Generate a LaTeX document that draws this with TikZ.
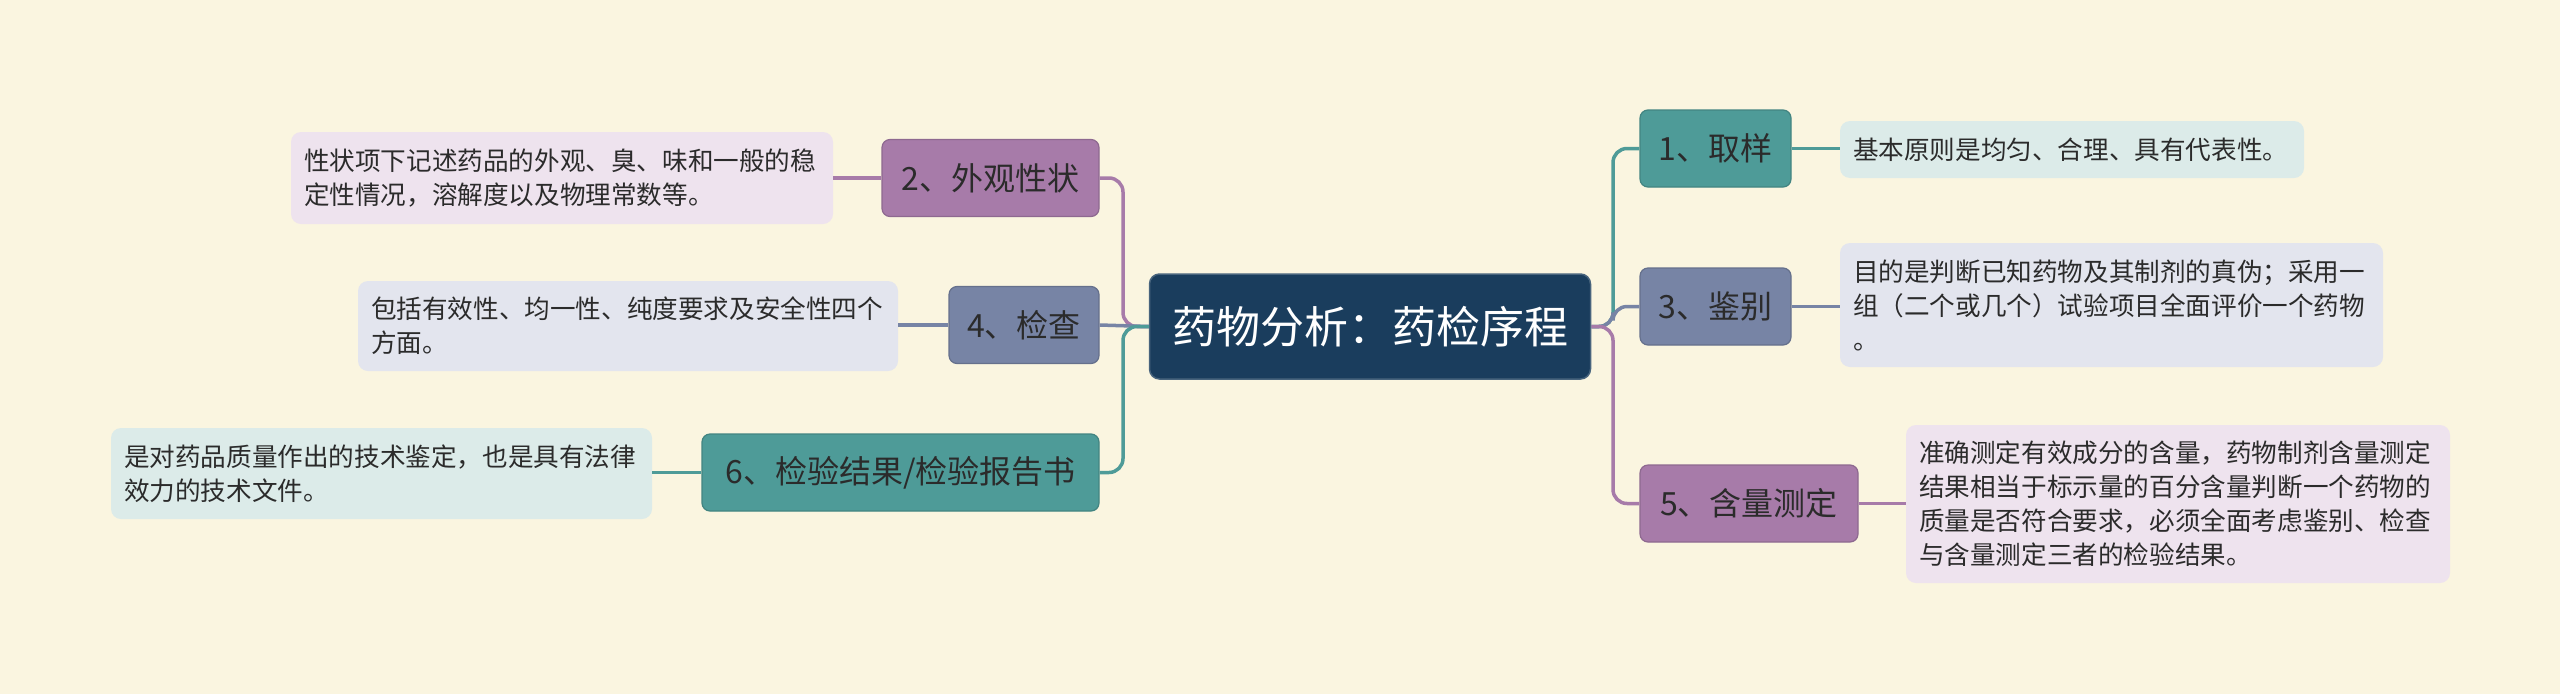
\documentclass[tikz,border=0pt]{standalone}
\usepackage{fontspec}
\newfontfamily\cjk{Noto Sans CJK SC}
\usetikzlibrary{calc}
\definecolor{bg}{HTML}{FAF5E0}
\definecolor{rootc}{HTML}{1A3D5D}
\definecolor{tealc}{HTML}{4E9B98}
\definecolor{slatec}{HTML}{7784A5}
\definecolor{purpc}{HTML}{A77BA9}
\definecolor{teall}{HTML}{DCEBE9}
\definecolor{slatel}{HTML}{E3E5EE}
\definecolor{purpl}{HTML}{EEE3EE}
\definecolor{txt}{HTML}{2B2B2B}
\begin{document}
\begin{tikzpicture}[x=1pt,y=-1pt,
  rootbox/.style={rounded corners=10pt, fill=rootc, draw=rootc!80!white, line width=1.5pt, text=white,
    font=\cjk\fontsize{44}{52}\selectfont, minimum width=441pt, minimum height=105pt, inner sep=0pt},
  topic/.style={rounded corners=8pt, line width=1.2pt, font=\cjk\fontsize{32}{38}\selectfont,
    text=txt, minimum height=77pt, inner sep=0pt},
  leaf/.style={rounded corners=10pt, font=\cjk\fontsize{25.6}{34}\selectfont, text=txt,
    align=left, inner xsep=13pt, inner ysep=0pt},
  conn/.style={line width=3.5pt, rounded corners=14pt},
]
\fill[bg] (0,0) rectangle (2560,694);
\useasboundingbox (0,0) rectangle (2560,694);

% root
\node[rootbox] (root) at (1370,326.5) {药物分析：药检序程};

% topics right
\node[topic, fill=tealc, draw=tealc!85!black, minimum width=151pt] (n1) at (1715.5,148.5) {1、取样};
\node[topic, fill=slatec, draw=slatec!85!black, minimum width=151pt] (n3) at (1715.5,306.5) {3、鉴别};
\node[topic, fill=purpc, draw=purpc!85!black, minimum width=218pt] (n5) at (1749,503.5) {5、含量测定};
% topics left
\node[topic, fill=purpc, draw=purpc!85!black, minimum width=217pt] (n2) at (990.5,178) {2、外观性状};
\node[topic, fill=slatec, draw=slatec!85!black, minimum width=150pt] (n4) at (1024,325) {4、检查};
\node[topic, fill=tealc, draw=tealc!85!black, minimum width=397pt] (n6) at (900.5,472.5) {6、检验结果/检验报告书};

% leaves
\node[leaf, fill=teall, text width=438pt, minimum height=57pt] (l1) at (2072,149.5) {基本原则是均匀、合理、具有代表性。};
\node[leaf, fill=slatel, text width=517pt, minimum height=124pt] (l3) at (2111.5,305) {目的是判断已知药物及其制剂的真伪；采用一\\组（二个或几个）试验项目全面评价一个药物\\。};
\node[leaf, fill=purpl, text width=518pt, minimum height=158pt] (l5) at (2178,504) {准确测定有效成分的含量，药物制剂含量测定\\结果相当于标示量的百分含量判断一个药物的\\质量是否符合要求，必须全面考虑鉴别、检查\\与含量测定三者的检验结果。};
\node[leaf, fill=purpl, text width=516pt, minimum height=92pt] (l2) at (562,178) {性状项下记述药品的外观、臭、味和一般的稳\\定性情况，溶解度以及物理常数等。};
\node[leaf, fill=slatel, text width=514pt, minimum height=90pt] (l4) at (628,326) {包括有效性、均一性、纯度要求及安全性四个\\方面。};
\node[leaf, fill=teall, text width=515pt, minimum height=91pt] (l6) at (381.5,473.5) {是对药品质量作出的技术鉴定，也是具有法律\\效力的技术文件。};

% junctions
\coordinate (jr) at (1613,326.5);
\coordinate (jl) at (1123,326.5);

% connectors right
\begin{scope}[on background layer/.style={}]
\end{scope}
\draw[conn, tealc] (root.east) -- (jr) |- (n1.west);
\draw[conn, slatec] (root.east) -- (jr) |- (n3.west);
\draw[conn, purpc] (root.east) -- (jr) |- (n5.west);
% connectors left
\draw[conn, purpc] (root.west) -- (jl) |- (n2.east);
\draw[conn, slatec] (root.west) -- (n4.east);
\draw[conn, tealc] (root.west) -- (jl) |- (n6.east);

% leaf connectors
\draw[conn, tealc] (n1.east) -- (n1.east -| l1.west);
\draw[conn, slatec] (n3.east) -- (n3.east -| l3.west);
\draw[conn, purpc] (n5.east) -- (n5.east -| l5.west);
\draw[conn, purpc] (n2.west) -- (n2.west -| l2.east);
\draw[conn, slatec] (n4.west) -- (n4.west -| l4.east);
\draw[conn, tealc] (n6.west) -- (n6.west -| l6.east);
\end{tikzpicture}
\end{document}
